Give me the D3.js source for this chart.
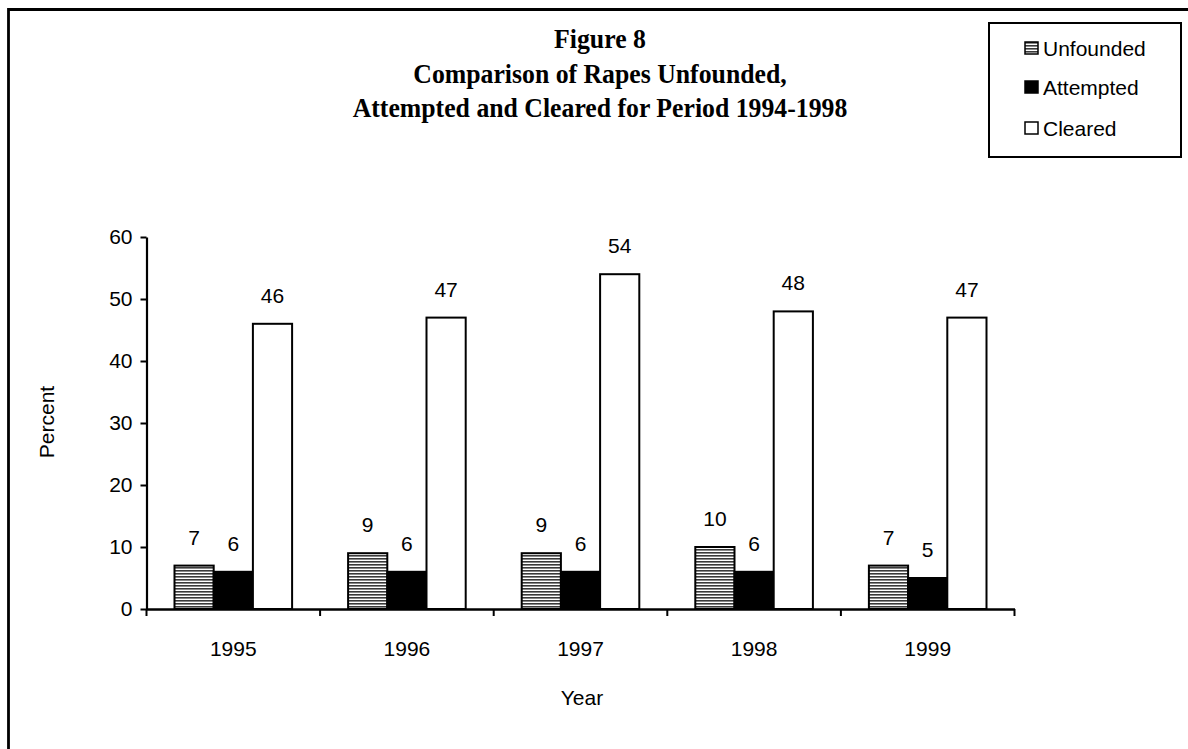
<!DOCTYPE html>
<html><head><meta charset="utf-8">
<script src="https://cdn.jsdelivr.net/npm/d3@7"></script>
<style>body{margin:0;background:#fff}svg{display:block}</style>
</head><body>
<script>
const years = ["1995","1996","1997","1998","1999"];
const seriesNames = ["Unfounded","Attempted","Cleared"];
const unfounded = [7,9,9,10,7];
const attempted = [6,6,6,6,5];
const cleared = [46,47,54,48,47];
const yTicks = [0,10,20,30,40,50,60];
const titleLines = ["Figure 8","Comparison of Rapes Unfounded,","Attempted and Cleared for Period 1994-1998"];

(function(){
const W=1188,H=749;
const svg=d3.select("body").append("svg").attr("width",W).attr("height",H);
const defs=svg.append("defs");
const pat=defs.append("pattern").attr("id","hatch").attr("patternUnits","userSpaceOnUse").attr("width",6).attr("height",3);
pat.append("rect").attr("width",6).attr("height",3).attr("fill","#fff");
pat.append("rect").attr("width",6).attr("height",1.6).attr("fill","#3a3a3a");

// frame
svg.append("path").attr("d",`M8.5,${H} V9.5 H${W}`).attr("fill","none").attr("stroke","#000").attr("stroke-width",2.8);

const pl=146.5,pr=1014.5,pt=237,pb=609;
const x0=d3.scaleBand().domain(years).range([pl,pr]).padding(0);
const x1=d3.scaleBand().domain(seriesNames).range([28,x0.bandwidth()-28]).padding(0);
const y=d3.scaleLinear().domain([0,60]).range([pb,pt]);

const fills={Unfounded:"url(#hatch)",Attempted:"#000",Cleared:"#fff"};
const data=years.map((yr,i)=>({year:yr,vals:[
  {s:"Unfounded",v:unfounded[i]},{s:"Attempted",v:attempted[i]},{s:"Cleared",v:cleared[i]}]}));

const g=svg.append("g");
const grp=g.selectAll("g.grp").data(data).join("g").attr("transform",d=>`translate(${x0(d.year)},0)`);
grp.selectAll("rect").data(d=>d.vals).join("rect")
  .attr("x",d=>x1(d.s)).attr("width",x1.bandwidth())
  .attr("y",d=>y(d.v)).attr("height",d=>pb-y(d.v))
  .attr("fill",d=>fills[d.s]).attr("stroke","#000").attr("stroke-width",2);
grp.selectAll("text").data(d=>d.vals).join("text")
  .attr("x",d=>x1(d.s)+x1.bandwidth()/2).attr("y",d=>y(d.v)-21)
  .attr("text-anchor","middle").attr("font-family","Liberation Sans, Arial, sans-serif")
  .attr("font-size",21).text(d=>d.v);

// y axis
const ya=svg.append("g").attr("transform",`translate(${pl},0)`)
  .call(d3.axisLeft(y).tickValues(yTicks).tickSize(6).tickSizeOuter(0).tickPadding(8));
ya.select(".domain").attr("stroke-width",2.2);
ya.selectAll(".tick line").attr("stroke-width",2);
ya.selectAll("text").attr("font-family","Liberation Sans, Arial, sans-serif").attr("font-size",21).attr("fill","#000");

// x axis
const xa=svg.append("g").attr("transform",`translate(0,${pb})`)
  .call(d3.axisBottom(x0).tickSize(0).tickPadding(32));
xa.select(".domain").attr("stroke-width",2.5);
xa.selectAll("text").attr("font-family","Liberation Sans, Arial, sans-serif").attr("font-size",21).attr("fill","#000");
// boundary ticks
svg.append("g").selectAll("line").data(d3.range(years.length+1)).join("line")
  .attr("x1",i=>pl+i*x0.step()).attr("x2",i=>pl+i*x0.step())
  .attr("y1",pb).attr("y2",pb+7).attr("stroke","#000").attr("stroke-width",2);

svg.append("text").attr("x",582).attr("y",705).attr("text-anchor","middle")
  .attr("font-family","Liberation Sans, Arial, sans-serif").attr("font-size",21).text("Year");
svg.append("text").attr("transform","translate(54,422) rotate(-90)").attr("text-anchor","middle")
  .attr("font-family","Liberation Sans, Arial, sans-serif").attr("font-size",21).text("Percent");

// title
svg.append("g").selectAll("text").data(titleLines).join("text")
  .attr("transform",(d,i)=>`translate(600,${48+i*34.5}) scale(0.92,1)`)
  .attr("text-anchor","middle").attr("font-family","Liberation Serif, Times New Roman, serif")
  .attr("font-weight","bold").attr("font-size",28).text(d=>d);

// legend
const lg=svg.append("g");
lg.append("rect").attr("x",989).attr("y",23).attr("width",192).attr("height",134)
  .attr("fill","#fff").attr("stroke","#000").attr("stroke-width",2);
const ly=[48,87,128];
seriesNames.forEach((s,i)=>{
  lg.append("rect").attr("x",1025).attr("y",ly[i]-6).attr("width",13).attr("height",12)
    .attr("fill",fills[s]).attr("stroke","#000").attr("stroke-width",1.5);
  lg.append("text").attr("x",1043).attr("y",ly[i]+7.5).attr("font-family","Liberation Sans, Arial, sans-serif")
    .attr("font-size",21).text(s);
});
})();
</script>
</body></html>
